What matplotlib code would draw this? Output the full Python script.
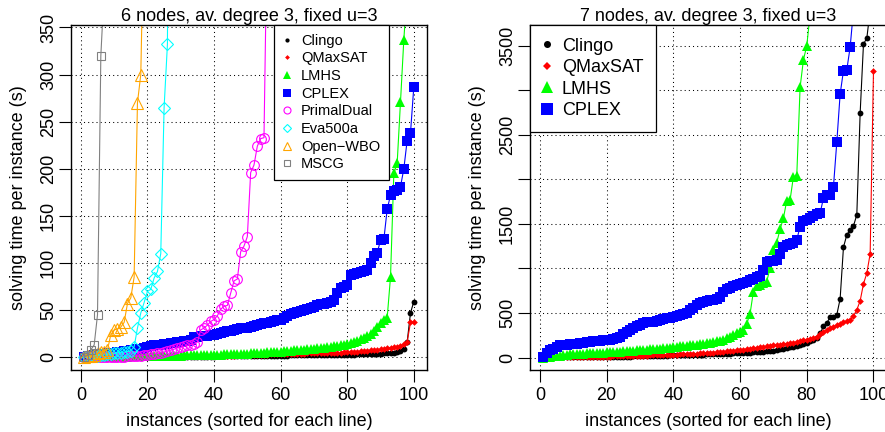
import matplotlib.pyplot as plt
from matplotlib.lines import Line2D

plt.rcParams['font.family'] = ['Liberation Sans', 'DejaVu Sans']

# ---- 6 nodes, av. degree 3, fixed u=3 (left panel) ----
clingo_6 = [0.02, 0.03, 0.03, 0.04, 0.05, 0.05, 0.06, 0.07, 0.08, 0.09,
            0.1, 0.11, 0.12, 0.13, 0.14, 0.15, 0.17, 0.18, 0.2, 0.21,
            0.23, 0.25, 0.27, 0.29, 0.31, 0.33, 0.35, 0.37, 0.4, 0.42,
            0.45, 0.48, 0.5, 0.53, 0.56, 0.6, 0.63, 0.66, 0.7, 0.74,
            0.78, 0.82, 0.86, 0.9, 0.95, 1.0, 1.05, 1.1, 1.15, 1.2,
            1.25, 1.3, 1.35, 1.4, 1.45, 1.5, 1.55, 1.6, 1.65, 1.7,
            1.75, 1.8, 1.85, 1.9, 1.95, 2.0, 2.05, 2.1, 2.15, 2.2,
            2.25, 2.3, 2.35, 2.4, 2.45, 2.5, 2.55, 2.6, 2.65, 2.7,
            2.75, 2.8, 2.9, 3.0, 3.1, 3.2, 3.3, 3.4, 3.6, 3.8,
            4.0, 4.3, 4.6, 5.0, 5.5, 6.5, 9.0, 16, 47, 59]
qmaxsat_6 = [0.05, 0.08, 0.1, 0.12, 0.15, 0.18, 0.2, 0.22, 0.25, 0.28,
             0.3, 0.33, 0.36, 0.4, 0.43, 0.46, 0.5, 0.53, 0.56, 0.6,
             0.64, 0.68, 0.72, 0.76, 0.8, 0.84, 0.88, 0.92, 0.96, 1.0,
             1.05, 1.1, 1.15, 1.2, 1.25, 1.3, 1.35, 1.4, 1.45, 1.5,
             1.55, 1.6, 1.65, 1.7, 1.75, 1.8, 1.9, 2.0, 2.1, 2.2,
             2.3, 2.4, 2.5, 2.6, 2.7, 2.8, 2.9, 3.0, 3.1, 3.2,
             3.3, 3.4, 3.5, 3.6, 3.7, 3.8, 3.9, 4.0, 4.1, 4.2,
             4.3, 4.4, 4.5, 4.6, 4.7, 4.8, 4.9, 5.0, 5.2, 5.4,
             5.6, 5.8, 6.0, 6.3, 6.6, 7.0, 7.3, 7.6, 8.0, 8.5,
             9.0, 9.5, 10, 10.5, 11, 12, 14, 16, 37, 37.5]
lmhs_6 = [0.1, 0.15, 0.2, 0.25, 0.3, 0.35, 0.4, 0.45, 0.5, 0.55,
          0.6, 0.65, 0.7, 0.75, 0.8, 0.85, 0.9, 0.95, 1.0, 1.1,
          1.2, 1.3, 1.4, 1.5, 1.55, 1.6, 1.65, 1.7, 1.75, 1.8,
          1.9, 2.0, 2.1, 2.2, 2.3, 2.4, 2.45, 2.5, 2.55, 2.6,
          2.7, 2.8, 2.9, 3.0, 3.1, 3.2, 3.3, 3.5, 3.7, 3.9,
          4.1, 4.3, 4.5, 4.7, 4.9, 5.1, 5.3, 5.5, 5.7, 6.0,
          6.3, 6.6, 6.9, 7.2, 7.5, 7.8, 8.1, 8.4, 8.7, 9.0,
          9.3, 9.6, 10, 10.5, 11, 11.5, 12, 12.5, 13, 14,
          15, 16, 17.5, 19, 20.5, 22, 25, 28, 32, 36,
          40, 42, 85, 195, 206, 271, 337, 390]
cplex_6 = [0.5, 1, 1.5, 2, 2.5, 3, 3.5, 4, 4.5, 5,
           5.5, 6, 6.5, 7, 7.5, 8, 8.5, 9, 10, 11,
           12, 12.5, 13, 13.5, 14, 14.5, 15, 15.5, 16, 16.5,
           17, 17.5, 18, 21, 21.5, 22, 22.5, 23, 23.5, 24,
           25, 26, 27, 27.5, 28, 29, 30, 30.5, 31, 31.5,
           32, 33, 34, 35, 36, 36.5, 37, 38, 39, 40,
           42, 44, 46, 47, 48, 49, 50, 51, 52, 53,
           55, 56, 57, 58, 59, 61, 68, 73, 75, 77,
           87, 88, 89, 90, 91, 93, 100, 107, 111, 124,
           125, 157, 172, 176, 178, 181, 200, 230, 238, 287]
primaldual_6 = [0.1, 0.1, 0.2, 0.2, 0.3, 0.3, 0.4, 0.4, 0.5, 0.5,
                0.6, 0.6, 0.7, 0.8, 0.9, 1.0, 1.2, 1.5, 2.0, 2.5,
                3, 3.5, 4, 4.6, 5.5, 6.5, 7.5, 8.5, 10, 10.5,
                11.5, 12.5, 13.5, 14, 16, 29, 31, 34, 38, 40,
                44, 51, 54, 55, 68, 81, 83, 112, 118, 128,
                196, 204, 224, 232, 233, 470]
eva500a_6 = [0.2, 0.5, 0.8, 1.2, 1.6, 2, 2.5, 3, 3.5, 4,
             4.5, 5, 5.5, 6, 7, 11, 31, 47, 58, 70,
             72, 84, 91, 110, 265, 332, 1000]
openwbo_6 = [0.3, 0.8, 1.5, 2.5, 4, 5.5, 6, 8, 24, 29,
             30, 32, 37, 57, 63, 85, 270, 300, 480]
mscg_6 = [0.5, 2, 8, 13, 45, 320, 390]

# ---- 7 nodes, av. degree 3, fixed u=3 (right panel) ----
clingo_7 = [0.5, 0.8, 1, 1.2, 1.5, 1.8, 2, 2.3, 2.6, 3,
            3.3, 3.6, 4, 4.4, 4.8, 5.2, 5.6, 6, 6.5, 7,
            7.5, 8, 8.5, 9, 9.5, 10, 11, 12, 13, 14,
            15, 16, 17, 18, 19, 20, 21, 22, 23, 24,
            25, 26, 27, 28, 29, 30, 31, 32, 33, 34,
            35, 36, 37, 38, 40, 42, 44, 46, 48, 50,
            52, 54, 56, 58, 60, 63, 66, 70, 74, 78,
            85, 92, 100, 108, 115, 122, 130, 140, 150, 165,
            180, 195, 215, 270, 349, 386, 455, 460, 479, 658,
            1238, 1376, 1432, 1477, 1601, 2742, 3519, 3583, 3900, 4500]
qmaxsat_7 = [0.5, 1, 1.5, 2, 2.5, 3, 3.5, 4, 4.5, 5,
             5.5, 6, 6.5, 7, 7.5, 8, 8.5, 9, 9.5, 10,
             11, 12, 13, 14, 15, 16, 17, 18, 19, 20,
             21, 22, 23, 24, 25, 26, 27, 28, 29, 30,
             32, 34, 36, 38, 40, 42, 44, 46, 48, 50,
             53, 56, 59, 62, 65, 68, 72, 76, 80, 85,
             90, 95, 100, 105, 110, 115, 120, 125, 130, 135,
             140, 145, 150, 155, 160, 168, 176, 184, 192, 200,
             210, 220, 235, 260, 290, 310, 330, 345, 365, 380,
             395, 410, 423, 468, 535, 636, 827, 947, 1163, 3216]
lmhs_7 = [0, 3, 8, 12, 16, 20, 25, 30, 34, 38,
          40, 42, 44, 46, 48, 50, 52, 54, 56, 58,
          60, 62, 64, 66, 68, 70, 73, 76, 79, 82,
          85, 88, 91, 94, 97, 100, 104, 108, 112, 116,
          120, 124, 128, 132, 136, 140, 145, 150, 156, 162,
          168, 175, 182, 190, 200, 215, 230, 250, 270, 290,
          310, 378, 490, 740, 800, 815, 840, 853, 1003, 1205,
          1290, 1440, 1564, 1760, 1769, 2030, 2038, 3033, 3340, 3500,
          3850]
cplex_7 = [10, 50, 80, 100, 120, 140, 143, 145, 150, 153,
           156, 160, 165, 170, 175, 180, 185, 190, 195, 198,
           200, 205, 220, 235, 260, 290, 310, 330, 350, 370,
           390, 395, 398, 402, 405, 420, 430, 440, 448, 455,
           465, 475, 490, 500, 530, 560, 590, 610, 625, 640,
           645, 650, 660, 680, 730, 770, 785, 800, 810, 820,
           835, 850, 865, 880, 900, 920, 984, 1072, 1080, 1088,
           1096, 1160, 1245, 1260, 1270, 1280, 1320, 1470, 1528, 1545,
           1565, 1590, 1610, 1620, 1788, 1820, 1825, 1918, 2416, 2955,
           3220, 3230, 3482, 3900, 4500]

# name -> (color, marker, size, filled)
styles = {
    'Clingo': ('black', 'o', 4.2, True),
    'QMaxSAT': ('#FF0000', 'D', 3.4, True),
    'LMHS': ('#00FF00', '^', 7.6, True),
    'CPLEX': ('#0000FF', 's', 7.6, True),
    'PrimalDual': ('#FF00FF', 'o', 7.0, False),
    'Eva500a': ('#00FFFF', 'D', 6.0, False),
    'Open\u2212WBO': ('#FFA500', '^', 8.6, False),
    'MSCG': ('#808080', 's', 6.2, False),
}

FS = 13
W, H = 885, 432


def draw_panel(ax, series, title, ylim, yticks, ylabels):
    for name, vals in series:
        color, marker, ms, filled = styles[name]
        x = list(range(1, len(vals) + 1))
        if filled:
            ax.plot(x, vals, color=color, lw=0.8, marker=marker, ms=ms,
                    mfc=color, mec=color, mew=0)
        else:
            ax.plot(x, vals, color=color, lw=0.8, marker=marker, ms=ms,
                    mfc='none', mec=color, mew=0.8)
    ax.set_xlim(-2.96, 103.96)
    ax.set_ylim(*ylim)
    ax.set_xticks([0, 20, 40, 60, 80, 100])
    ax.set_yticks(yticks, labels=ylabels, rotation=90, va='center')
    ax.tick_params(axis='both', direction='out', length=8.5, width=0.8,
                   labelsize=FS)
    ax.tick_params(axis='x', pad=4)
    ax.tick_params(axis='y', pad=1.6)
    ax.grid(True, linestyle=(0, (1, 3)), color='black', linewidth=0.75)
    for sp in ax.spines.values():
        sp.set_linewidth(1.0)
    ax.set_title(title, fontsize=FS, pad=1.5)
    ax.set_xlabel('instances (sorted for each line)', fontsize=FS, labelpad=6.5)
    ax.set_ylabel('solving time per instance (s)', fontsize=FS, labelpad=9)


def add_legend(ax, fig, names, x_px, fs, scale, bp, ls, hl, htp):
    handles = []
    for name in names:
        color, marker, ms, filled = styles[name]
        handles.append(Line2D([], [], ls='none', marker=marker, ms=ms * scale,
                              color=color, mfc=color if filled else 'none',
                              mec=color, mew=0 if filled else 0.8))
    leg = ax.legend(handles, names, loc='upper left',
                    bbox_to_anchor=(x_px / W, 1 - 25 / H),
                    bbox_transform=fig.transFigure, borderaxespad=0,
                    fontsize=fs, borderpad=bp, labelspacing=ls,
                    handlelength=hl, handletextpad=htp,
                    fancybox=False, framealpha=1, edgecolor='black')
    leg.get_frame().set_linewidth(0.9)


fig = plt.figure(figsize=(W / 100, H / 100), dpi=100)
ax1 = fig.add_axes([71 / W, 1 - 370 / H, 356 / W, 345 / H])
ax2 = fig.add_axes([530 / W, 1 - 370 / H, 356.7 / W, 345 / H])

left_series = [('Clingo', clingo_6), ('QMaxSAT', qmaxsat_6), ('LMHS', lmhs_6),
               ('CPLEX', cplex_6), ('PrimalDual', primaldual_6),
               ('Eva500a', eva500a_6), ('Open\u2212WBO', openwbo_6),
               ('MSCG', mscg_6)]
right_series = [('Clingo', clingo_7), ('QMaxSAT', qmaxsat_7),
                ('LMHS', lmhs_7), ('CPLEX', cplex_7)]

yt1 = [0, 50, 100, 150, 200, 250, 300, 350]
draw_panel(ax1, left_series, '6 nodes, av. degree 3, fixed u=3',
           (-13.56, 352.6), yt1, [str(v) for v in yt1])
yt2 = [0, 500, 1000, 1500, 2000, 2500, 3000, 3500]
draw_panel(ax2, right_series, '7 nodes, av. degree 3, fixed u=3',
           (-140, 3732), yt2, ['0', '500', '', '1500', '', '2500', '', '3500'])

add_legend(ax1, fig, [n for n, _ in left_series], 274, 10.5, 0.72,
           0.6, 0.25, 0.6, 0.65)
add_legend(ax2, fig, [n for n, _ in right_series], 530, FS, 1.2,
           0.7, 0.25, 0.45, 0.62)

fig.savefig('out.png', dpi=100)
